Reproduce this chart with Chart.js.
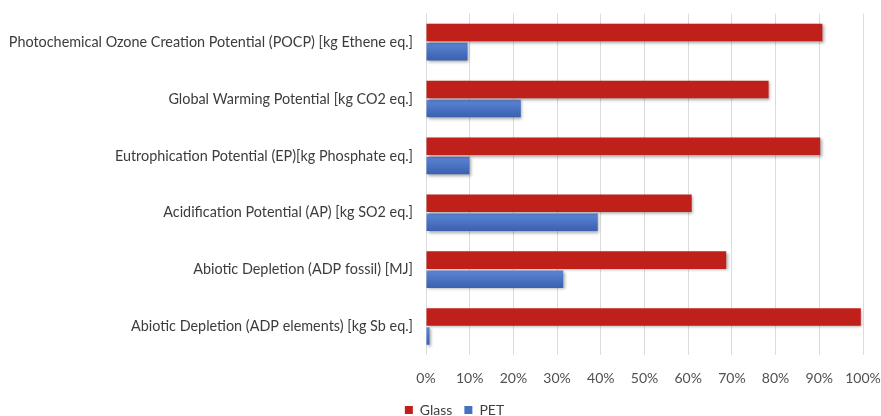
<!DOCTYPE html>
<html>
<head>
<meta charset="utf-8">
<script src="https://cdn.jsdelivr.net/npm/chart.js@4.4.1/dist/chart.umd.min.js"></script>
<style>
  html, body { margin: 0; padding: 0; background: #ffffff; }
  #wrap { width: 881px; height: 416px; position: relative; }
</style>
</head>
<body>
<div id="wrap"><canvas id="c"></canvas></div>
<script>
// Impact categories, listed top to bottom
const categories = [
  "Photochemical Ozone Creation Potential (POCP) [kg Ethene eq.]",
  "Global Warming Potential [kg CO2 eq.]",
  "Eutrophication Potential (EP)[kg Phosphate eq.]",
  "Acidification Potential (AP) [kg SO2 eq.]",
  "Abiotic Depletion (ADP fossil) [MJ]",
  "Abiotic Depletion (ADP elements) [kg Sb eq.]"
];
// Relative share (%) per packaging type
const glassValues = [90.7, 78.4, 90.2, 60.8, 68.7, 99.5];
const petValues   = [9.5, 21.7, 9.9, 39.3, 31.4, 0.8];
const xTicks = [0, 10, 20, 30, 40, 50, 60, 70, 80, 90, 100];

const FONT = "Lato, 'Open Sans', sans-serif";
const CAT_PCT = 0.67;
const BAR_PCT = 0.92;

// Vertical shading for the PET bars (lighter on top, darker below)
function petFill(c) {
  const chart = c.chart;
  const yScale = chart.scales && chart.scales.y;
  if (!yScale || !chart.chartArea || c.dataIndex === undefined) return '#4670C0';
  const band = Math.abs(yScale.getPixelForValue(1) - yScale.getPixelForValue(0));
  const slot = band * CAT_PCT / 2;
  const mid = yScale.getPixelForValue(c.dataIndex) + slot / 2;
  const h = slot * BAR_PCT;
  const g = chart.ctx.createLinearGradient(0, mid - h / 2, 0, mid + h / 2);
  g.addColorStop(0, '#5D86D3');
  g.addColorStop(0.5, '#4A73C3');
  g.addColorStop(1, '#3B60AE');
  return g;
}

// Soft drop shadow under the bars
const barShadow = {
  id: 'barShadow',
  beforeDatasetsDraw(chart) {
    const ctx = chart.ctx;
    ctx.save();
    ctx.shadowColor = 'rgba(0,0,0,0.35)';
    ctx.shadowBlur = 3;
    ctx.shadowOffsetX = 1.5;
    ctx.shadowOffsetY = 1.5;
  },
  afterDatasetsDraw(chart) {
    chart.ctx.restore();
  }
};

// Fine placement of the legend row and room for the x tick labels
const layoutTweaks = {
  id: 'layoutTweaks',
  afterLayout(chart) {
    const lg = chart.legend;
    if (lg) {
      lg.left += 23;
      lg.right += 23;
      lg.top += 11;
      lg.bottom += 11;
    }
    if (chart.scales.x) chart.scales.x.bottom = chart.height;
  }
};

new Chart(document.getElementById('c'), {
  type: 'bar',
  data: {
    labels: categories,
    datasets: [
      {
        label: 'Glass',
        data: glassValues,
        backgroundColor: '#BF211A',
        categoryPercentage: CAT_PCT,
        barPercentage: BAR_PCT
      },
      {
        label: 'PET',
        data: petValues,
        backgroundColor: petFill,
        categoryPercentage: CAT_PCT,
        barPercentage: BAR_PCT
      }
    ]
  },
  options: {
    indexAxis: 'y',
    responsive: true,
    maintainAspectRatio: false,
    animation: false,
    layout: { padding: { top: 12, right: 18, left: 0, bottom: 0 } },
    plugins: {
      legend: {
        position: 'bottom',
        labels: {
          boxWidth: 8,
          boxHeight: 8,
          padding: 12,
          color: '#404040',
          generateLabels(chart) {
            const items = Chart.defaults.plugins.legend.labels.generateLabels(chart);
            items[1].fillStyle = '#4670C0';
            return items;
          },
          font: { family: FONT, size: 14 }
        }
      },
      tooltip: { enabled: false }
    },
    scales: {
      x: {
        min: 0,
        max: 100,
        afterBuildTicks(axis) {
          axis.ticks = xTicks.map(v => ({ value: v }));
        },
        afterFit(axis) {
          axis.height = 25;
          axis.paddingLeft = 0;
          axis.paddingRight = 0;
        },
        ticks: {
          callback: v => v + '%',
          color: '#505050',
          padding: 15,
          font: { family: FONT, size: 14 }
        },
        grid: { color: '#DCDCDC', drawTicks: false },
        border: { display: false }
      },
      y: {
        afterFit(axis) { axis.width = 426; },
        ticks: {
          color: '#3C3C3C',
          padding: 5,
          font: { family: FONT, size: 14.4 }
        },
        grid: { display: false },
        border: { display: false }
      }
    }
  },
  plugins: [barShadow, layoutTweaks]
});
</script>
</body>
</html>
